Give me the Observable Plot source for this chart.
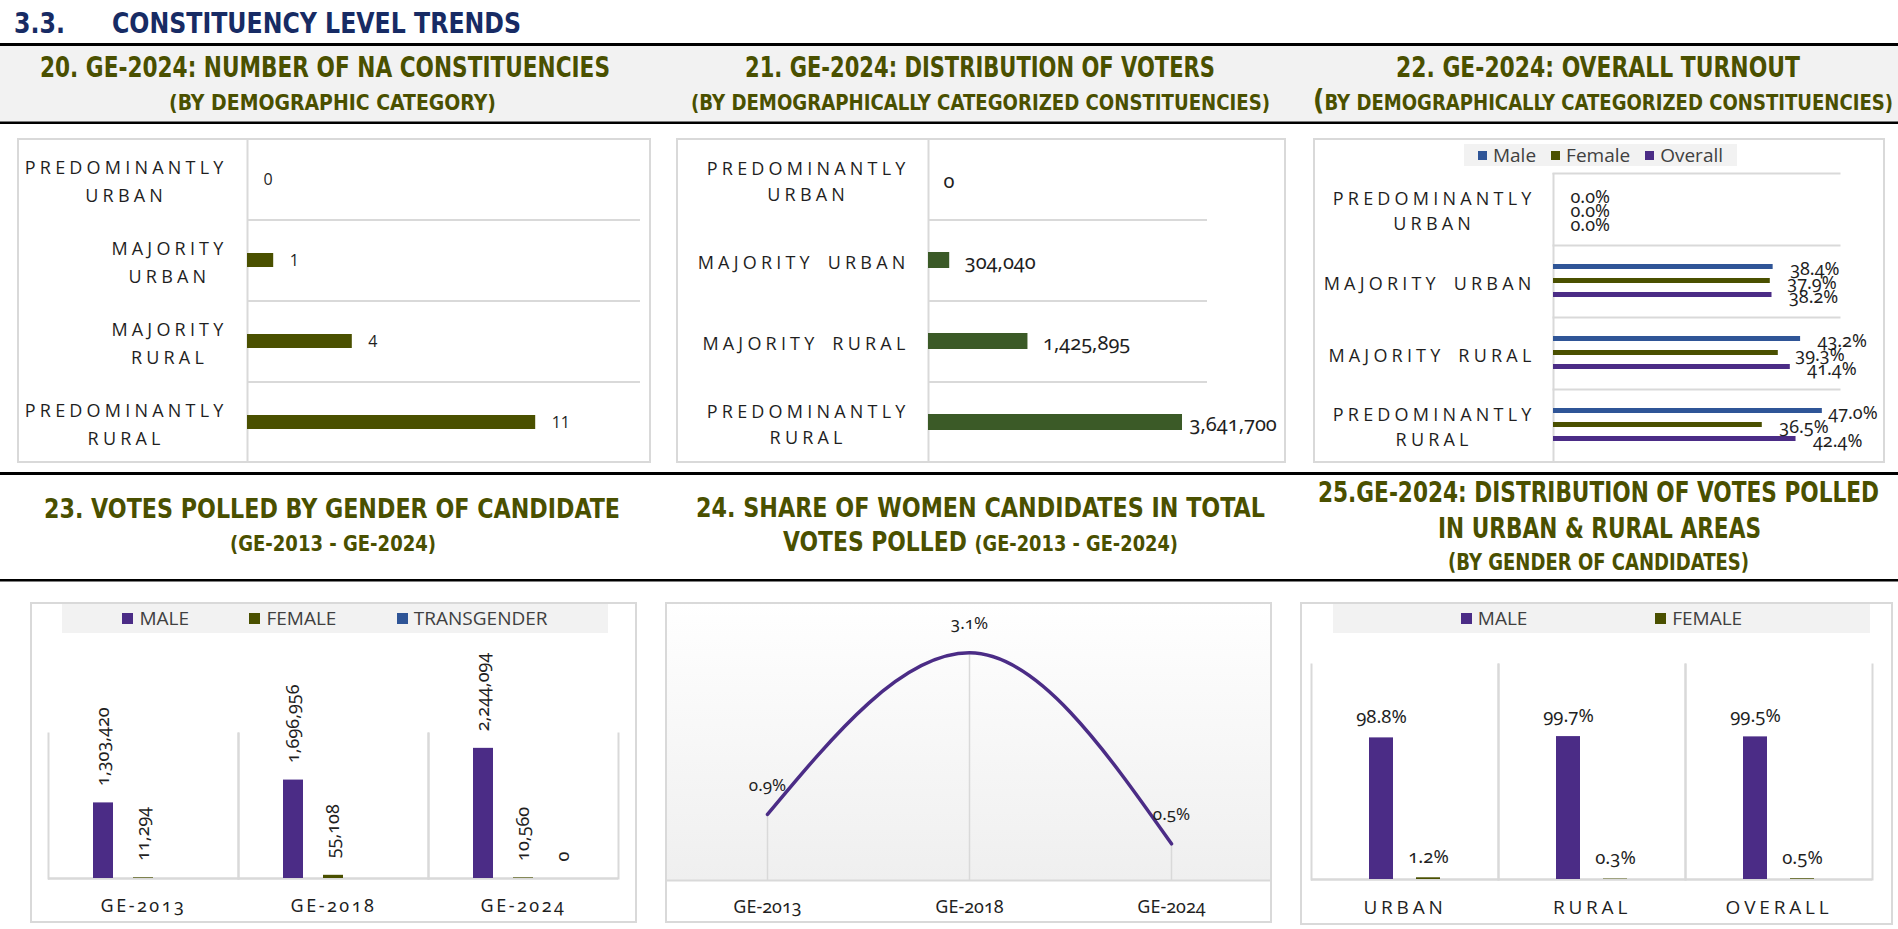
<!DOCTYPE html>
<html>
<head>
<meta charset="utf-8">
<script src="https://cdn.jsdelivr.net/npm/d3@7"></script>
<script src="https://cdn.jsdelivr.net/npm/@observablehq/plot@0.6"></script>
<style>
html,body{margin:0;padding:0;background:#fff;}
body{width:1898px;height:929px;position:relative;overflow:hidden;}
.chart{position:absolute;}
.chart svg{position:absolute;left:0;top:0;overflow:visible;}
.bord{position:absolute;left:0;top:0;right:0;bottom:0;border:2px solid #d9d9d9;box-sizing:border-box;pointer-events:none;}
g[aria-description="catlabels"] text{letter-spacing:4.2px;word-spacing:5px;}
.c23 g[aria-label="fx-axis tick label"] text{letter-spacing:2.5px;}
.c25 g[aria-label="fx-axis tick label"] text{letter-spacing:3.8px;}
.onum text{font-variant-numeric:oldstyle-nums;}
</style>
</head>
<body>
<script>
// ---------------- DATA ----------------
const cat4 = ["PREDOMINANTLY URBAN", "MAJORITY URBAN", "MAJORITY RURAL", "PREDOMINANTLY RURAL"];
const labels20 = ["PREDOMINANTLY\nURBAN", "MAJORITY\nURBAN", "MAJORITY\nRURAL", "PREDOMINANTLY\nRURAL"];
const labels21 = ["PREDOMINANTLY\nURBAN", "MAJORITY URBAN", "MAJORITY RURAL", "PREDOMINANTLY\nRURAL"];
const naCount = [0, 1, 4, 11];
const voters = [0, 304040, 1425895, 3641700];
const turnSeries = ["Male", "Female", "Overall"];
const turnMale = [0.0, 38.4, 43.2, 47.0];
const turnFemale = [0.0, 37.9, 39.3, 36.5];
const turnOverall = [0.0, 38.2, 41.4, 42.4];
const years = ["GE-2013", "GE-2018", "GE-2024"];
const genders = ["MALE", "FEMALE", "TRANSGENDER"];
const votesMale = [1303420, 1696956, 2244094];
const votesFemale = [11294, 55108, 10560];
const votesTrans = [null, null, 0];
const womenShare = [0.9, 3.1, 0.5];
const areas = ["URBAN", "RURAL", "OVERALL"];
const areaSeries = ["MALE", "FEMALE"];
const areaMale = [98.8, 99.7, 99.5];
const areaFemale = [1.2, 0.3, 0.5];

const pageTitleNum = "3.3.";
const pageTitle = "CONSTITUENCY LEVEL TRENDS";
const t20 = ["20. GE-2024: NUMBER OF NA CONSTITUENCIES", "(BY DEMOGRAPHIC CATEGORY)"];
const t21 = ["21. GE-2024: DISTRIBUTION OF VOTERS", "(BY DEMOGRAPHICALLY CATEGORIZED CONSTITUENCIES)"];
const t22 = ["22. GE-2024: OVERALL TURNOUT", "(", "BY DEMOGRAPHICALLY CATEGORIZED CONSTITUENCIES)"];
const t23 = ["23. VOTES POLLED BY GENDER OF CANDIDATE", "(GE-2013 - GE-2024)"];
const t24 = ["24. SHARE OF WOMEN CANDIDATES IN TOTAL", "VOTES POLLED ", "(GE-2013 - GE-2024)"];
const t25 = ["25.GE-2024: DISTRIBUTION OF VOTES POLLED", "IN URBAN & RURAL AREAS", "(BY GENDER OF CANDIDATES)"];

// ---------------- STYLE ----------------
const FONT = '"Open Sans", "Noto Sans", sans-serif';
const NUMF = '"Noto Sans", "Open Sans", sans-serif';
const HF = '"Liberation Sans Narrow", "DejaVu Sans Condensed", "Liberation Sans", sans-serif';
const TXT = "#1f1f1f";
const GRID = "#d9d9d9";
const OLIVE = "#4a5000";
const GREEN = "#3b5a27";
const BLUE = "#2f5597";
const PURPLE = "#4b2c86";
const NAVY = "#172b64";
const HCOL = "#4a5000";
const fmt = d3.format(",");
const pct = d => d.toFixed(1) + "%";

// ---------------- HEADERS ----------------
const hdr = d3.select("body").append("svg")
  .attr("width", 1898).attr("height", 929)
  .style("position", "absolute").style("left", "0px").style("top", "0px");
hdr.append("rect").attr("x", 0).attr("y", 45).attr("width", 1898).attr("height", 77).attr("fill", "#f2f2f2");
[[43, 3], [121.5, 2.5], [472, 3], [579, 2.5]].forEach(([y, h]) =>
  hdr.append("rect").attr("x", 0).attr("y", y).attr("width", 1898).attr("height", h).attr("fill", "#000"));

function htext(parts, x1, x2, y, color) {
  const t = hdr.append("text").attr("x", x1).attr("y", y)
    .attr("textLength", x2 - x1).attr("lengthAdjust", "spacingAndGlyphs")
    .attr("fill", color || HCOL)
    .style("font-family", HF).style("font-weight", "bold");
  parts.forEach(([s, size]) => t.append("tspan").attr("font-size", size).text(s));
}
htext([[pageTitleNum, 29]], 14, 65, 33, NAVY);
htext([[pageTitle, 29]], 112, 521, 33, NAVY);
htext([[t20[0], 29]], 40, 610, 77);
htext([[t20[1], 21]], 169, 496, 110);
htext([[t21[0], 29]], 745, 1215, 77);
htext([[t21[1], 21]], 691, 1270, 110);
htext([[t22[0], 29]], 1396, 1800, 77);
htext([[t22[1], 29], [t22[2], 21]], 1313, 1893, 110);
htext([[t23[0], 27]], 44, 620, 518);
htext([[t23[1], 22]], 230, 436, 551);
htext([[t24[0], 27]], 696, 1265, 517);
htext([[t24[1], 27], [t24[2], 22]], 783, 1178, 551);
htext([[t25[0], 28]], 1318, 1879, 502);
htext([[t25[1], 28]], 1438, 1761, 538);
htext([[t25[2], 23]], 1448, 1749, 570);

// ---------------- HELPERS ----------------
function chartBox(L, T, W, H, cls) {
  return d3.select("body").append("div").attr("class", "chart " + (cls || ""))
    .style("left", L + "px").style("top", T + "px")
    .style("width", W + "px").style("height", H + "px");
}
function finish(div, svg) {
  div.node().appendChild(svg);
  div.append("div").attr("class", "bord");
  d3.select(svg).selectAll('g[aria-description="catlabels"] text').each(function () {
    const w = this.getBBox().width;
    const t = this.getAttribute("transform") || "";
    this.setAttribute("text-anchor", "middle");
    this.setAttribute("transform", t + ` translate(${-w / 2},0)`);
  });
}
function legend(div, {left, top, width, height, items, sq, fs, justify, gap}) {
  const lg = div.append("div")
    .style("position", "absolute").style("left", left + "px").style("top", top + "px")
    .style("width", width + "px").style("height", height + "px")
    .style("background", "#f2f2f2").style("display", "flex").style("align-items", "center")
    .style("justify-content", justify).style("gap", gap ? gap + "px" : null)
    .style("font-family", FONT).style("font-size", fs + "px").style("color", "#404040")
    .style("line-height", height + "px").style("white-space", "nowrap");
  items.forEach(it => {
    const s = lg.append("div").style("display", "flex").style("align-items", "center");
    s.append("span").style("display", "inline-block").style("width", sq + "px").style("height", sq + "px")
      .style("background", it.color).style("margin-right", "6px");
    s.append("span").text(it.label);
  });
}
const baseStyle = {background: "transparent", fontFamily: FONT, color: TXT, overflow: "visible"};

// ---------------- CHART 20 ----------------
{
  const L = 17, T = 138, W = 634, H = 325, ml = 230, mr = 11;
  const step = H / 4;
  const data = cat4.map((c, i) => ({cat: c, v: naCount[i], label: labels20[i]}));
  const div = chartBox(L, T, W, H, "c20");
  const svg = Plot.plot({
    width: W, height: H, marginLeft: ml, marginRight: mr, marginTop: 0, marginBottom: 0,
    x: {domain: [0, 15], axis: null},
    y: {domain: cat4, paddingInner: 0.83, paddingOuter: 0.415, axis: null},
    style: baseStyle,
    marks: [
      Plot.ruleY(cat4.slice(1), {y: d => d, dy: -step / 2, x1: 0, x2: 15, stroke: GRID, strokeWidth: 2}),
      Plot.ruleX([0], {stroke: GRID, strokeWidth: 2}),
      Plot.barX(data, {y: "cat", x: "v", fill: OLIVE}),
      Plot.text(data, {y: "cat", x: "v", text: d => fmt(d.v), textAnchor: "start", dx: 16, fontSize: 16, fill: TXT}),
      Plot.text(data, {y: "cat", text: "label", frameAnchor: "left", textAnchor: "end", dx: -20,
        lineHeight: 1.55, fontSize: 18, fill: TXT, ariaDescription: "catlabels"})
    ]
  });
  finish(div, svg);
}

// ---------------- CHART 21 ----------------
{
  const L = 676, T = 138, W = 610, H = 325, ml = 252, mr = 79;
  const step = H / 4;
  const data = cat4.map((c, i) => ({cat: c, v: voters[i], label: labels21[i]}));
  const vmax = d3.max(voters);
  const div = chartBox(L, T, W, H, "c21 onum");
  const svg = Plot.plot({
    width: W, height: H, marginLeft: ml, marginRight: mr, marginTop: 0, marginBottom: 0,
    x: {domain: [0, 4000000], axis: null},
    y: {domain: cat4, paddingInner: 0.8, paddingOuter: 0.4, axis: null},
    style: baseStyle,
    marks: [
      Plot.ruleY(cat4.slice(1), {y: d => d, dy: -step / 2, x1: 0, x2: 4000000, stroke: GRID, strokeWidth: 2}),
      Plot.ruleX([0], {stroke: GRID, strokeWidth: 2}),
      Plot.barX(data, {y: "cat", x: "v", fill: GREEN}),
      Plot.text(data.filter(d => d.v !== vmax), {y: "cat", x: "v", text: d => fmt(d.v), textAnchor: "start", dx: 15, dy: 2, fontSize: 20, fontFamily: NUMF, fill: TXT}),
      Plot.text(data.filter(d => d.v === vmax), {y: "cat", x: "v", text: d => fmt(d.v), textAnchor: "start", dx: 7, dy: 2, fontSize: 20, fontFamily: NUMF, fill: TXT}),
      Plot.text(data, {y: "cat", text: "label", frameAnchor: "left", textAnchor: "end", dx: -19,
        lineHeight: 1.45, fontSize: 18, fill: TXT, ariaDescription: "catlabels"})
    ]
  });
  finish(div, svg);
}

// ---------------- CHART 22 ----------------
{
  const L = 1313, T = 138, W = 572, H = 325, ml = 240, mr = 46;
  const vals = [turnMale, turnFemale, turnOverall];
  const turn = cat4.flatMap((c, i) => turnSeries.map((s, j) => ({cat: c, s, v: vals[j][i]})));
  const tmax = d3.max(turn, d => d.v);
  const div = chartBox(L, T, W, H, "c22 onum");
  legend(div, {left: 151, top: 6, width: 273, height: 22, sq: 9, fs: 19, justify: "center", gap: 15,
    items: turnSeries.map((s, j) => ({label: s, color: [BLUE, OLIVE, PURPLE][j]}))});
  const svg = Plot.plot({
    width: W, height: H, marginLeft: ml, marginRight: mr, marginTop: 33, marginBottom: 1,
    fy: {domain: cat4, padding: 0, axis: null},
    y: {domain: turnSeries, paddingInner: 0.64, paddingOuter: 1.33, axis: null},
    x: {domain: [0, 50], axis: null},
    color: {domain: turnSeries, range: [BLUE, OLIVE, PURPLE]},
    style: baseStyle,
    marks: [
      Plot.frame({anchor: "top", stroke: GRID, strokeWidth: 2}),
      Plot.ruleX([0], {stroke: GRID, strokeWidth: 2}),
      Plot.barX(turn, {fy: "cat", y: "s", x: "v", fill: "s"}),
      Plot.text(turn.filter(d => d.v !== tmax), {fy: "cat", y: "s", x: "v", text: d => pct(d.v), textAnchor: "start", dx: 17, dy: 2, fontSize: 18, fontFamily: NUMF, fill: TXT}),
      Plot.text(turn.filter(d => d.v === tmax), {fy: "cat", y: "s", x: "v", text: d => pct(d.v), textAnchor: "start", dx: 6, dy: 2, fontSize: 18, fontFamily: NUMF, fill: TXT}),
      Plot.text(cat4, {fy: d => d, text: (d, i) => labels21[i], frameAnchor: "left", textAnchor: "end", dx: -18,
        lineHeight: 1.39, fontSize: 18, fill: TXT, ariaDescription: "catlabels"})
    ]
  });
  finish(div, svg);
}

// ---------------- CHART 23 ----------------
{
  const L = 30, T = 602, W = 607, H = 321;
  const vals = [votesMale, votesFemale, votesTrans];
  const gv = years.flatMap((y, i) => genders.map((g, j) => ({year: y, s: g, v: vals[j][i]}))).filter(d => d.v != null);
  const div = chartBox(L, T, W, H, "c23 onum");
  legend(div, {left: 32, top: 1, width: 546, height: 30, sq: 11, fs: 19, justify: "space-evenly",
    items: genders.map((g, j) => ({label: g, color: [PURPLE, OLIVE, BLUE][j]}))});
  const svg = Plot.plot({
    width: W, height: H, marginLeft: 18, marginRight: 19, marginTop: 131, marginBottom: 45,
    fx: {domain: years, padding: 0},
    x: {domain: genders, paddingInner: 0.5, paddingOuter: 1.125, axis: null},
    y: {domain: [0, 2500000], axis: null},
    color: {domain: genders, range: [PURPLE, OLIVE, BLUE]},
    style: baseStyle,
    marks: [
      Plot.frame({anchor: "left", stroke: GRID, strokeWidth: 2}),
      Plot.frame({anchor: "right", stroke: GRID, strokeWidth: 2}),
      Plot.ruleY([0], {stroke: GRID, strokeWidth: 2.5}),
      Plot.barY(gv, {fx: "year", x: "s", y: "v", fill: "s"}),
      Plot.text(gv, {fx: "year", x: "s", y: "v", text: d => fmt(d.v), rotate: -90, textAnchor: "start", dy: -17, fontSize: 18, fontFamily: NUMF, fill: TXT}),
      Plot.axisFx({anchor: "bottom", tickSize: 0, tickPadding: 21, fontSize: 18, fontFamily: NUMF, label: null, fill: TXT})
    ]
  });
  finish(div, svg);
}

// ---------------- CHART 24 ----------------
{
  const L = 665, T = 602, W = 607, H = 321;
  const ws = years.map((y, i) => ({year: y, v: womenShare[i]}));
  const div = chartBox(L, T, W, H, "c24 onum");
  div.style("background", "linear-gradient(to bottom, #ffffff 0px, #efefef 278px, #ffffff 278px)");
  const svg = Plot.plot({
    width: W, height: H, marginLeft: 0, marginRight: 0, marginTop: 21, marginBottom: 43,
    x: {type: "point", domain: years, padding: 0.5},
    y: {domain: [0, 3.5], axis: null},
    style: baseStyle,
    marks: [
      Plot.ruleY([0], {stroke: GRID, strokeWidth: 2}),
      Plot.ruleX(ws, {x: "year", y1: 0, y2: "v", stroke: GRID, strokeWidth: 1.5}),
      Plot.line(ws, {x: "year", y: "v", curve: "monotone-x", stroke: PURPLE, strokeWidth: 3.5}),
      Plot.text(ws, {x: "year", y: "v", text: d => pct(d.v), dy: -29, fontSize: 17, fontFamily: NUMF, fill: TXT}),
      Plot.axisX({anchor: "bottom", tickSize: 0, tickPadding: 20, fontSize: 18, fontFamily: NUMF, label: null, fill: TXT})
    ]
  });
  finish(div, svg);
}

// ---------------- CHART 25 ----------------
{
  const L = 1300, T = 602, W = 593, H = 323;
  const vals = [areaMale, areaFemale];
  const av = areas.flatMap((a, i) => areaSeries.map((s, j) => ({area: a, s, v: vals[j][i]})));
  const div = chartBox(L, T, W, H, "c25 onum");
  legend(div, {left: 33, top: 1, width: 537, height: 30, sq: 11, fs: 19, justify: "space-evenly",
    items: areaSeries.map((s, j) => ({label: s, color: [PURPLE, OLIVE][j]}))});
  const svg = Plot.plot({
    width: W, height: H, marginLeft: 11, marginRight: 21, marginTop: 62, marginBottom: 46,
    fx: {domain: areas, padding: 0},
    x: {domain: areaSeries, paddingInner: 0.48, paddingOuter: 1.19, axis: null},
    y: {domain: [0, 150], axis: null},
    color: {domain: areaSeries, range: [PURPLE, OLIVE]},
    style: baseStyle,
    marks: [
      Plot.frame({anchor: "left", stroke: GRID, strokeWidth: 2}),
      Plot.frame({anchor: "right", stroke: GRID, strokeWidth: 2}),
      Plot.ruleY([0], {stroke: GRID, strokeWidth: 2.5}),
      Plot.barY(av, {fx: "area", x: "s", y: "v", fill: "s"}),
      Plot.text(av, {fx: "area", x: "s", y: "v", text: d => pct(d.v), dy: -21, fontSize: 18.5, fontFamily: NUMF, fill: TXT}),
      Plot.axisFx({anchor: "bottom", tickSize: 0, tickPadding: 21, fontSize: 19, fontFamily: FONT, label: null, fill: TXT})
    ]
  });
  finish(div, svg);
}
</script>
</body>
</html>
